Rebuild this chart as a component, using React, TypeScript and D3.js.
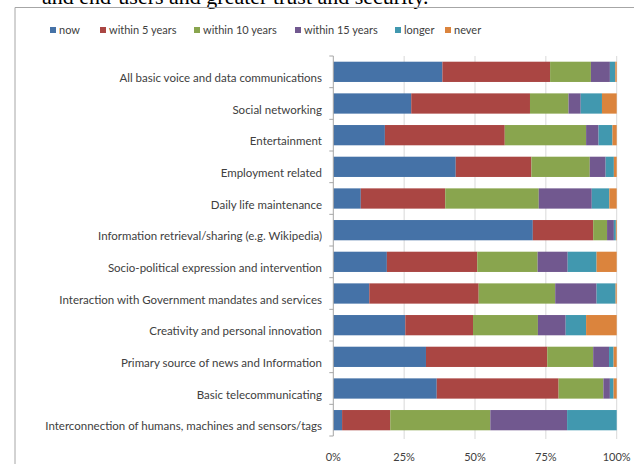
import * as d3 from 'd3';

const categories = [
  'All basic voice and data communications',
  'Social networking',
  'Entertainment',
  'Employment related',
  'Daily life maintenance',
  'Information retrieval/sharing (e.g. Wikipedia)',
  'Socio-political expression and intervention',
  'Interaction with Government mandates and services',
  'Creativity and personal innovation',
  'Primary source of news and Information',
  'Basic telecommunicating',
  'Interconnection of humans, machines and sensors/tags',
];

const seriesNames = ['now', 'within 5 years', 'within 10 years', 'within 15 years', 'longer', 'never'];
const seriesColors = ['#4572A7', '#AA4643', '#89A54E', '#71588F', '#4198AF', '#DB843D'];

// percentages per category, same order as categories
const now = [38.5, 27.5, 18.2, 43.2, 9.7, 70.4, 18.9, 12.7, 25.4, 32.7, 36.5, 3.1];
const within5 = [38.0, 41.9, 42.3, 26.7, 29.8, 21.3, 31.9, 38.6, 23.9, 42.8, 43.0, 17.0];
const within10 = [14.4, 13.6, 28.7, 20.6, 33.0, 4.9, 21.3, 27.0, 22.9, 16.2, 15.8, 35.3];
const within15 = [6.7, 4.3, 4.4, 5.6, 18.7, 2.4, 10.6, 14.6, 9.8, 5.6, 2.3, 27.1];
const longer = [1.9, 7.5, 4.9, 2.9, 6.2, 0.7, 10.2, 6.7, 7.2, 1.6, 1.3, 17.5];
const never = [0.5, 5.2, 1.5, 1.0, 2.6, 0.3, 7.1, 0.4, 10.8, 1.1, 1.1, 0.0];

const xTicks = [0, 0.25, 0.5, 0.75, 1];

const W = 634;
const H = 464;
const font = "Lato, 'Open Sans', sans-serif";

type Row = { cat: string; [k: string]: number | string };

const rows: Row[] = categories.map((cat, i) => ({
  cat,
  now: now[i],
  'within 5 years': within5[i],
  'within 10 years': within10[i],
  'within 15 years': within15[i],
  longer: longer[i],
  never: never[i],
}));

export default function App() {
  const x = d3.scaleLinear().domain([0, 1]).range([333.3, 616.7]);
  const y = d3.scaleBand<string>().domain(categories).range([56, 436]).paddingInner(0.36).paddingOuter(0.18);
  const stack = d3
    .stack<Row>()
    .keys(seriesNames)
    .value((d, k) => d[k] as number)
    .offset(d3.stackOffsetExpand);
  const layers = stack(rows);
  const step = y.step();
  const top = 56;
  const bottom = 436;
  const color = d3.scaleOrdinal<string, string>().domain(seriesNames).range(seriesColors);

  const legendX = [50, 100, 194, 295, 395, 445];

  return (
    <svg width={W} height={H} style={{ position: 'fixed', left: 0, top: 0, background: '#fff' }}>
      <text x={42} y={4} fontFamily="'Liberation Serif', serif" fontSize={22} fill="#000">
        and end-users and greater trust and security.
      </text>
      <line x1={15} x2={W} y1={7.5} y2={7.5} stroke="#a6a6a6" />
      <line x1={15} x2={15} y1={7.5} y2={H} stroke="#a6a6a6" />

      {/* legend */}
      {seriesNames.map((name, i) => (
        <g key={name} transform={`translate(${legendX[i]},30)`}>
          <rect x={0} y={-3} width={6} height={6} fill={color(name)} />
          <text x={9} y={0} dy="0.35em" fontFamily={font} fontSize={11} fill="#404040">
            {name}
          </text>
        </g>
      ))}

      {/* gridlines */}
      {xTicks.slice(1).map((t) => (
        <line key={t} x1={x(t)} x2={x(t)} y1={top} y2={bottom + 3} stroke="#d9d9d9" />
      ))}

      {/* bars */}
      {layers.map((layer) => (
        <g key={layer.key} fill={color(layer.key)}>
          {layer.map((d) => (
            <rect
              key={d.data.cat}
              x={x(d[0])}
              y={y(d.data.cat)}
              width={Math.max(0, x(d[1]) - x(d[0]))}
              height={y.bandwidth()}
            />
          ))}
        </g>
      ))}

      {/* category axis */}
      <line x1={x(0)} x2={x(0)} y1={top} y2={bottom} stroke="#a6a6a6" />
      {d3.range(categories.length + 1).map((i) => (
        <line key={i} x1={x(0) - 4} x2={x(0)} y1={top + i * step} y2={top + i * step} stroke="#a6a6a6" />
      ))}
      {categories.map((c) => (
        <text
          key={c}
          x={322}
          y={(y(c) ?? 0) + y.bandwidth() / 2 + 6}
          dy="0.35em"
          textAnchor="end"
          fontFamily={font}
          fontSize={11.5}
          fill="#404040"
        >
          {c}
        </text>
      ))}

      {/* value axis labels */}
      {xTicks.map((t) => (
        <text
          key={t}
          x={x(t)}
          y={457}
          dy="0.35em"
          textAnchor="middle"
          fontFamily={font}
          fontSize={11}
          fill="#404040"
        >
          {d3.format('.0%')(t)}
        </text>
      ))}
    </svg>
  );
}
